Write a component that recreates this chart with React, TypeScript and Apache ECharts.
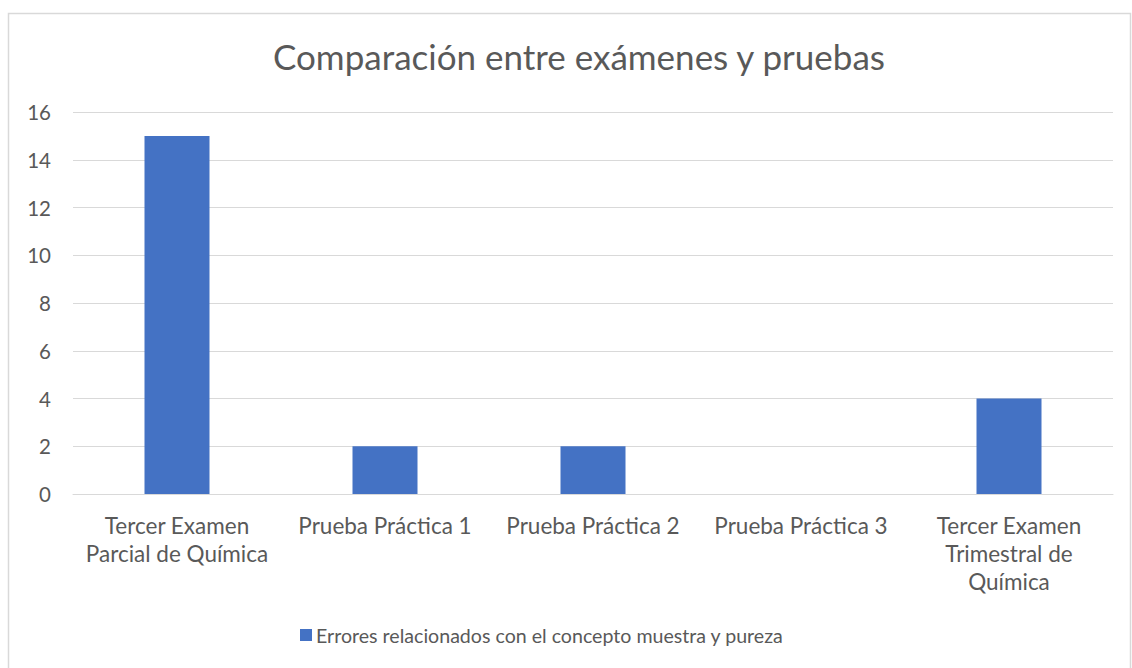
import React, { useEffect, useRef } from "react";
import * as echarts from "echarts";

const categories = [
  "Tercer Examen\nParcial de Química",
  "Prueba Práctica 1",
  "Prueba Práctica 2",
  "Prueba Práctica 3",
  "Tercer Examen\nTrimestral de\nQuímica",
];
const seriesName = "Errores relacionados con el concepto muestra y pureza";
const values = [15, 2, 2, 0, 4];
const yTicks = { min: 0, max: 16, interval: 2 };

const FONT = "Lato, 'Open Sans', sans-serif";
const GRAY = "#595959";

export default function App() {
  const ref = useRef<HTMLDivElement>(null);
  useEffect(() => {
    if (!ref.current) return;
    const chart = echarts.init(ref.current, undefined, { renderer: "svg" });
    chart.setOption({
      animation: false,
      backgroundColor: "#ffffff",
      textStyle: { fontFamily: FONT },
      title: {
        text: "Comparación entre exámenes y pruebas",
        left: 268,
        top: 33,
        textStyle: { fontFamily: FONT, fontSize: 35, fontWeight: "normal", color: GRAY },
      },
      graphic: [
        {
          type: "rect",
          shape: { x: 8.5, y: 13.5, width: 1122, height: 680 },
          style: { fill: "none", stroke: "#d9d9d9", lineWidth: 1.5 },
          silent: true,
        },
      ],
      legend: {
        bottom: 18,
        left: 295,
        itemWidth: 12,
        itemHeight: 12,
        itemGap: 10,
        icon: "rect",
        textStyle: { fontFamily: FONT, fontSize: 19.6, color: GRAY, padding: [0, 0, 0, -1] },
        data: [seriesName],
      },
      grid: { left: 73, right: 19, top: 112, bottom: 174, containLabel: false },
      xAxis: {
        type: "category",
        data: categories,
        axisLine: { show: true, lineStyle: { color: "#d9d9d9", width: 1 } },
        axisTick: { show: false },
        axisLabel: {
          color: GRAY,
          fontFamily: FONT,
          fontSize: 22.5,
          lineHeight: 28,
          margin: 17,
          interval: 0,
        },
      },
      yAxis: {
        type: "value",
        min: yTicks.min,
        max: yTicks.max,
        interval: yTicks.interval,
        axisLine: { show: false },
        axisTick: { show: false },
        splitLine: { lineStyle: { color: "#d9d9d9", width: 1 } },
        axisLabel: { color: GRAY, fontFamily: FONT, fontSize: 20.5, margin: 22 },
      },
      series: [
        {
          name: seriesName,
          type: "bar",
          data: values,
          barWidth: 65,
          itemStyle: { color: "#4472C4" },
        },
      ],
    });
    return () => chart.dispose();
  }, []);
  return (
    <div
      ref={ref}
      style={{ position: "absolute", left: 0, top: 0, width: 1132, height: 668 }}
    />
  );
}
